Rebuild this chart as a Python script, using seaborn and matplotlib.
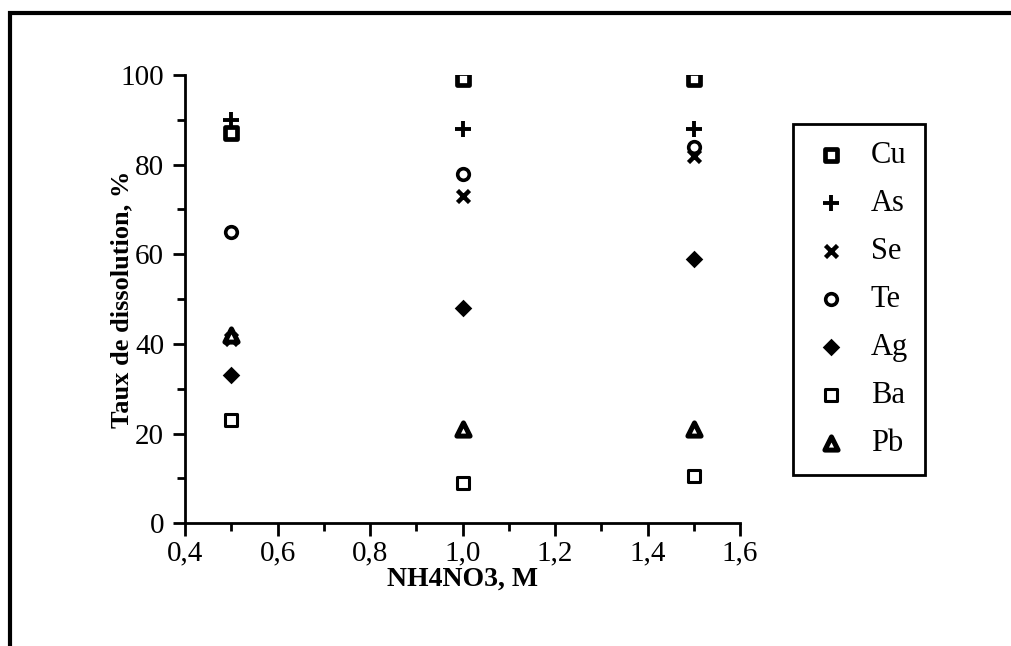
import numpy as np
import pandas as pd
import matplotlib
matplotlib.use("Agg")
import matplotlib.pyplot as plt
from matplotlib.patches import Rectangle
from matplotlib.ticker import MultipleLocator, FuncFormatter
import seaborn as sns

# NH4NO3 concentration (M) and dissolution rate (%) per element
conc = [0.5, 1.0, 1.5]
elements = ["Cu", "As", "Se", "Te", "Ag", "Ba", "Pb"]
cu = [87, 99, 99]
as_ = [90, 88, 88]
se = [41, 73, 82]
te = [65, 78, 84]
ag = [33, 48, 59]
ba = [23, 9, 10.5]
pb = [42, 21, 21]

values = dict(zip(elements, [cu, as_, se, te, ag, ba, pb]))
df = pd.DataFrame(
    [(c, el, v) for el in elements for c, v in zip(conc, values[el])],
    columns=["NH4NO3", "element", "taux"],
)

sns.set_theme(style="ticks")
plt.rcParams["font.family"] = ["Liberation Serif", "DejaVu Serif"]
plt.rcParams["text.color"] = "black"
plt.rcParams["axes.labelcolor"] = "black"

# marker styles per element
styles = {
    "Cu": dict(marker="s", s=70, facecolor="white", edgecolor="black", linewidth=3.4),
    "As": dict(marker="+", s=120, color="black", linewidth=2.8),
    "Se": dict(marker="x", s=75, color="black", linewidth=3.2),
    "Te": dict(marker="o", s=70, facecolor="white", edgecolor="black", linewidth=2.6),
    "Ag": dict(marker="D", s=80, color="black", linewidth=0),
    "Ba": dict(marker="s", s=80, facecolor="white", edgecolor="black", linewidth=2.2),
    "Pb": dict(marker="^", s=90, facecolor="white", edgecolor="black", linewidth=3.6),
}

fig, ax = plt.subplots(figsize=(10.11, 6.46), dpi=100)
fig.subplots_adjust(left=0.183, right=0.732, bottom=0.190, top=0.884)

for el in elements:
    sub = df[df["element"] == el]
    sns.scatterplot(data=sub, x="NH4NO3", y="taux", ax=ax, label=el, **styles[el])

ax.set_xlim(0.4, 1.6)
ax.set_ylim(0, 100)
ax.xaxis.set_major_locator(MultipleLocator(0.2))
ax.xaxis.set_minor_locator(MultipleLocator(0.1))
ax.yaxis.set_major_locator(MultipleLocator(20))
ax.yaxis.set_minor_locator(MultipleLocator(10))
ax.xaxis.set_major_formatter(FuncFormatter(lambda v, p: f"{v:.1f}".replace(".", ",")))
ax.yaxis.set_major_formatter(FuncFormatter(lambda v, p: f"{v:.0f}"))
ax.tick_params(which="major", length=9, width=2, labelsize=21, colors="black", pad=6)
ax.tick_params(axis="x", which="major", pad=3)
ax.tick_params(which="minor", length=6, width=2, colors="black")
sns.despine(ax=ax)
for sp in ["left", "bottom"]:
    ax.spines[sp].set_linewidth(2)
    ax.spines[sp].set_color("black")

ax.set_xlabel("NH4NO3, M", fontsize=20, fontweight="bold")
ax.set_ylabel("Taux de dissolution, %", fontsize=19, fontweight="bold")
ax.xaxis.set_label_coords(0.5, -0.097)
ax.yaxis.set_label_coords(-0.093, 0.5)

leg = ax.legend(
    loc="upper left", bbox_to_anchor=(1.095, 0.89), frameon=True, fontsize=22,
    labelspacing=0.62, handletextpad=0.6, borderpad=0.55, handlelength=1.4,
    fancybox=False, edgecolor="black", framealpha=1, borderaxespad=0,
)
leg.get_frame().set_linewidth(2)
for t in leg.get_texts():
    t.set_color("black")

# outer frame of the figure, cut off at right and bottom
fig.add_artist(Rectangle((10 / 1011, -0.1), 1.2, 1.1 - 13 / 646,
                         transform=fig.transFigure, fill=False,
                         edgecolor="black", linewidth=3, clip_on=False))

fig.savefig("out.png", dpi=100)
